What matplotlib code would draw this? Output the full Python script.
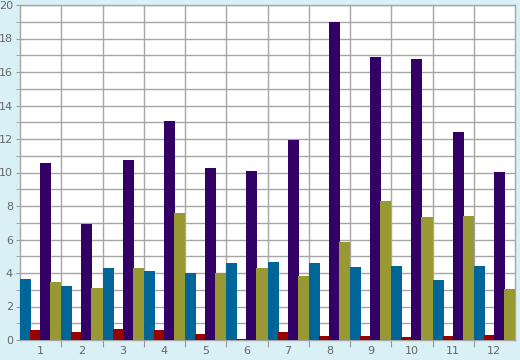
import numpy as np
import matplotlib.pyplot as plt
from matplotlib.ticker import MultipleLocator

# Values
groups = ["1", "2", "3", "4", "5", "6", "7", "8", "9", "10", "11", "12"]
teal = [3.66, 3.24, 4.32, 4.14, 4.02, 4.61, 4.67, 4.61, 4.38, 4.44, 3.60, 4.44]
red = [0.61, 0.50, 0.67, 0.61, 0.38, 0.08, 0.50, 0.26, 0.26, 0.20, 0.26, 0.32]
purple = [10.58, 6.94, 10.76, 13.09, 10.29, 10.11, 11.96, 19.0, 16.91, 16.80, 12.43, 10.05]
olive = [3.48, 3.12, 4.32, 7.60, 4.02, 4.32, 3.84, 5.87, 8.32, 7.36, 7.42, 3.06]

series = [teal, red, purple, olive]
colors = ["#006699", "#990000", "#330066", "#999933"]

fig = plt.figure(figsize=(5.2, 3.6), dpi=100)
fig.patch.set_facecolor("#daf0f7")
ax = fig.add_axes([20 / 520, 20 / 360, 495 / 520, 335 / 360])
ax.set_facecolor("white")

x = np.arange(len(groups))
width = 0.27
step = (1 - width) / 3
for i, (vals, c) in enumerate(zip(series, colors)):
    ax.bar(x - 0.5 + width / 2 + i * step, vals, width, color=c, zorder=3, linewidth=0)

ax.set_xlim(-0.5, len(groups) - 0.5)
ax.set_ylim(0, 20)

# vertical grid at group boundaries, horizontal grid every unit
ax.set_xticks(x[1:] - 0.5, minor=False)
ax.set_xticklabels([])
ax.set_xticks(x, minor=True)
ax.set_xticklabels(groups, minor=True)
ax.tick_params(axis="x", which="major", length=5, color="#999999", direction="out")
ax.tick_params(axis="x", which="minor", length=0, labelsize=8, labelcolor="#666666", pad=4)

ax.yaxis.set_major_locator(MultipleLocator(2))
ax.yaxis.set_minor_locator(MultipleLocator(1))
ax.tick_params(axis="y", which="both", length=3, color="#999999", labelsize=8,
               labelcolor="#666666", pad=2)

ax.grid(axis="x", which="major", color="#a6a6a6", linewidth=1, zorder=0)
ax.grid(axis="y", which="both", color="#a6a6a6", linewidth=1, zorder=0)

for s in ax.spines.values():
    s.set_color("#a6a6a6")
    s.set_linewidth(1)

plt.savefig("out.png", dpi=100, facecolor=fig.get_facecolor())
